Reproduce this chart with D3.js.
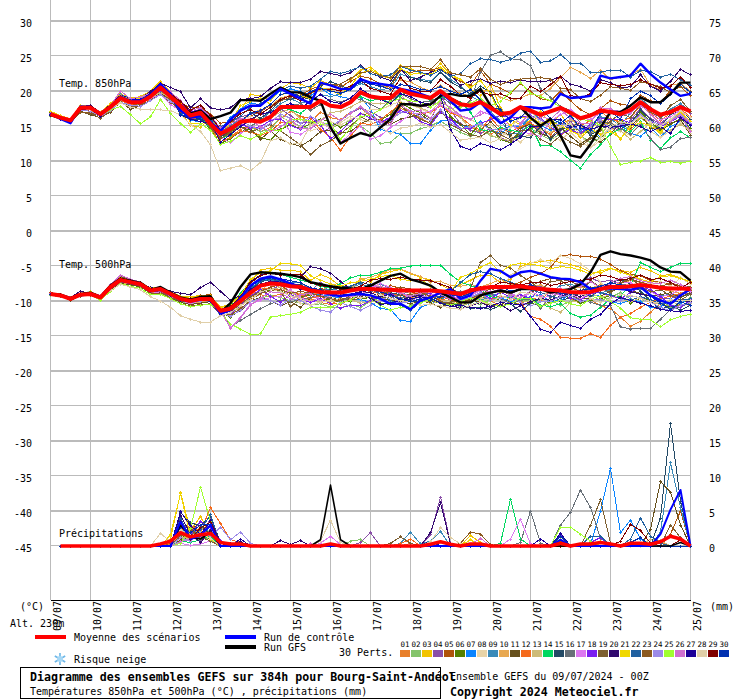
<!DOCTYPE html>
<html><head><meta charset="utf-8">
<script src="https://cdnjs.cloudflare.com/ajax/libs/d3/7.8.5/d3.min.js"></script>
<style>html,body{margin:0;padding:0;background:#fff}svg{display:block}text{font-family:"DejaVu Sans Mono",monospace;font-size:10px;fill:#000}</style>
</head><body><svg id="c" width="740" height="700"></svg>
<script>
const dates=["09/07","10/07","11/07","12/07","13/07","14/07","15/07","16/07","17/07","18/07","19/07","20/07","21/07","22/07","23/07","24/07","25/07"];
const leftTicks=[30,25,20,15,10,5,0,-5,-10,-15,-20,-25,-30,-35,-40,-45];
const rightTicks=[75,70,65,60,55,50,45,40,35,30,25,20,15,10,5,0];
const memberColors=["#e87f2a","#84c46b","#f2c400","#8a4fa8","#b0530a","#558000","#0a84ff","#e8d4a8","#3a8ab8","#e8a850","#66501c","#f56a1c","#cdbb78","#00d860","#234a66","#687078","#dc78f0","#7a1ef0","#7d5f30","#30086e","#f0d800","#2060a0","#8c5a20","#9c8ae8","#a0ff30","#d070d0","#1c0098","#e0cfa8","#800000","#0030b0"];

const mean850=[16.7,16.2,15.8,17.6,17.6,16.7,17.7,19,18.4,18.4,19.2,20.5,19.2,17.9,16.5,16.9,15.3,13.9,14.6,15.6,15.8,15.6,16.3,17.7,17.7,17.7,17.7,18.6,17.9,17.7,18.4,19.8,19.2,19,19,20.2,19.6,19.3,19,20,18.9,18.1,17.9,18.4,17.6,16.7,16.9,17.7,17.2,16.6,17.1,17.6,16.9,16.1,16.5,17.2,17,16.7,17.3,18.4,17.4,16.6,17,17.7,17.1];
const control850=[16.8,16,15.4,17.8,17.7,16.6,17.7,19.2,18.6,18.7,19.4,21,19.6,17.2,16.2,16.4,15.6,14.3,15.9,17.2,17.9,17.9,19.1,20.3,19.6,18.9,18.2,21.2,20.8,20.3,20.3,21.7,21.2,21,20.8,20.3,20,19.6,19.1,19.8,18.6,17.2,17.4,18.4,16.7,15.4,16.2,17.7,17.7,17.5,17.7,19.6,19,19.1,19.3,22.2,21.8,22,22.2,23.9,22.4,21.2,20.2,19.3,19.6];
const gfs850=[16.6,16.1,15.6,17.5,17.7,16.8,17.8,19.1,18.5,18.6,19.3,20.6,19.4,18,16.8,17.2,16,16.4,16.9,18.7,18.7,18.6,19.6,20.5,19.8,19.8,19.1,18.6,14.8,12.5,13.3,14,13.6,14.8,16,18.1,18.1,17.9,18.1,19.3,19.6,19.3,19.3,20.3,17.9,16.5,17,17.7,16.2,15,16,13.6,10.8,10.5,12.4,14.8,17,17,17.9,19.1,18.4,18.4,19.6,21.2,21.2];
const t850_01=[16.5,16,15.6,17.4,17.5,16.6,17.9,19.2,18.5,18.7,19.3,20.4,19,17,16.2,16.6,15.9,14.4,13.5,14.5,15,14.2,14.8,16,17.1,16.4,15.5,17,16.2,15.9,17,17.6,16.4,15.8,15.5,17.5,16.9,16.2,15.3,17.2,15.5,14.6,14.9,14.1,13.8,14.5,15,14.6,15.8,16.2,14.7,13.5,15,15.4,13.8,14.6,16.1,15.4,14.4,16.2,15.2,14.3,15.9,16.6,15.3];
const t850_02=[16.4,16.1,15.6,17.2,17.3,16.4,17.5,18.7,18.2,18.1,19.1,19.9,18.8,17.2,16.1,16.9,15.1,13.2,13.9,15.2,14.8,14.2,14.5,16.3,15.6,15,14.6,15.7,14.8,15.2,15.8,15,14,12.5,12.7,13.9,14,14.6,15,15.7,14.8,14.1,13.5,14.6,13.6,13.2,12.6,13.8,14.6,13.8,13,13.9,14.7,13.7,12.6,13.3,14.5,14.3,15,16.2,15.1,14.8,15.9,16.4,14.6];
const t850_03=[17,16.5,15.9,18,17.9,17,18.2,19.6,19,19.2,20,21.4,19.8,16.9,15.1,14.8,16.1,13.9,15.4,17.2,19.5,19.3,18.6,20.3,21.2,21,20.4,21.5,20.9,20.2,21.6,23,23.4,22.3,21.9,23.6,23.2,22.6,22.5,23.9,22.4,21.7,20.3,19.3,21,17.6,15.9,15.2,15.8,17.1,15.3,16.7,14.8,13.3,14.6,15.9,14.9,13.1,15,16.3,15,13.9,16,16.8,15.6];
const t850_04=[16.6,16.2,15.7,17.7,17.5,16.7,17.8,19.2,18.5,18.8,19.4,20.3,19.7,18.4,17.3,18,16.3,14.7,15.5,16.3,16.7,16.9,15.9,17.4,16.5,15.4,15.5,14.1,14.7,15.7,16.9,17.5,17.1,16.2,16.1,19.1,18.4,17.9,17.6,19.3,17.2,15.3,14.4,14,14.6,13.4,12.6,14,15.5,14.2,13.3,14.3,15.6,14.1,14.9,15.6,14.8,14.4,15.8,17.5,16.1,15.3,16.6,18.1,16.8];
const t850_05=[16.8,16.3,15.8,17.5,17.1,16.3,17.4,18.8,17.9,18.3,18.9,20.1,19.2,18.1,17.7,17.7,16.7,15.4,15.6,15.8,16.4,17.1,17.9,18.9,19.3,19.4,20.2,20.8,21,20.6,21.4,22.1,21.8,21,20.5,23,22.6,23,22.9,23.4,22.2,21.4,20.8,22.9,21,20.4,19.7,21.1,19.9,18.9,18.6,20,18.6,17.3,16.6,17.5,18.6,18.1,17.9,19.4,18.6,18.3,20.1,20.6,19.3];
const t850_06=[16.9,16.1,15.6,17.3,17.4,16.8,17.6,18.9,18.6,18.2,19.3,20.2,18.5,17.5,15.8,16.4,14.4,12.5,13.2,14.2,14.6,13.3,13,14.5,15.2,14.6,15.3,16,15.6,14.8,15.6,16.8,16.4,15.8,16.7,18.3,17.5,16.9,16.1,18.3,16.4,15.2,13.8,15.4,14.7,13.1,12.6,14.2,14.6,15.3,15.9,14.8,14.4,14.6,13.8,13.3,14.7,15.8,15.2,17,15.6,14.4,15.2,16.1,14.6];
const t850_07=[16.6,16,15.5,17.6,17.7,16.5,17.9,19.5,18.9,18.7,19.5,20.7,19.4,16.8,15.8,15.6,15.8,14.5,16.2,17.4,18.3,18,18.9,20,20.3,19.9,19.3,20.4,19.5,19.2,18.9,19.2,17.4,14.5,14.2,13.8,12.5,12.5,14.4,15.7,15.9,15.2,14.8,15.6,14.4,13.9,15.1,14.8,16.3,15.1,14.4,15.5,15.1,14.4,14.6,13.4,14.6,15.2,14,13.5,14.8,13.4,14.9,15.6,14.4];
const t850_08=[16.8,16.3,16,17.8,17.8,17,18,19.1,18.6,18.6,19,19.6,18.9,18.3,16.9,17.5,16.2,14.1,14.9,15.8,16.4,15.9,15.7,16.6,15.3,14.9,14.3,14.8,15.6,15.1,16,16.6,17.4,17.3,18,18.5,18,17.5,16.8,18.1,17.2,16.3,15.9,15.3,15.2,14.1,13.5,12.7,14,14.6,13.6,13,14.1,12.8,11.9,12.9,14.6,14.2,13.7,15.6,14.2,13.4,14.3,15.5,14];
const t850_09=[16.7,16.3,15.9,17.5,17.6,16.6,17.7,19.1,18.3,18.5,19.1,20.6,19.5,18,16.7,17.2,15.7,14,15.1,15.9,15.7,15.9,17,18.2,18.9,18.3,18.6,19.5,19.2,19.6,20.2,21.1,20.6,20.2,20.4,22.4,22,21.7,21.4,22.7,21.6,20.8,19.3,18.5,17.1,15.7,14,13.9,17.1,16,15,15.9,14.5,13.7,15.2,16.3,16,15,16.9,18.9,17.7,16.1,17.4,18.2,17.1];
const t850_10=[16.6,16.2,15.9,17.7,17.4,16.5,17.6,18.8,18.3,18.2,18.9,19.9,18.5,17.5,16.1,16.6,15.5,14.8,14.9,15.8,16.8,17.3,17.9,19,19.4,19.1,19.6,20.2,20.4,20,20.6,21.7,21.3,20.9,20.3,21.6,21.3,20.5,20,20.8,20,19.7,19.2,20,20.1,19.1,18.6,19,19.6,19.3,20.4,21.9,23.4,22.7,21.8,23,21.6,22,22.3,23.1,20.8,20.2,20.8,21.1,20];
const t850_11=[16.7,16.1,15.7,17.1,16.6,16.2,17,18.5,17.4,17.9,18.7,19.8,18.7,17.2,15.9,16.4,15.2,13.5,14.2,14.9,14.5,13.1,14.3,13.1,12.5,12.1,13,14.2,14.4,14,14.2,15.3,16,15.8,15.2,16,16.3,16.7,15.7,16.9,16.1,15.2,15,14.4,15.6,14.2,13.7,14.7,15.3,14,13.3,14.8,13.5,12.4,13.4,12.7,13.8,15.6,14.8,16.6,14.7,14.6,15.4,15.9,13.7];
const t850_12=[16.5,16.1,15.5,17.4,17.6,16.4,17.3,18.6,18.1,18.3,18.8,20,18.8,17.6,16.1,16.1,14.6,12.8,13.3,14.3,14.1,13.7,14.2,15.5,15.4,16.4,16.1,14.5,13.4,11.5,13.5,15.4,15.2,15.9,17,18.2,16.8,16.8,16.9,17.9,16.9,16.3,15.1,14.4,16.2,14.6,14.2,14.9,15.4,14.6,13.8,15.2,16,15,15.8,17.1,16,15.6,16.2,17.9,16.9,15.8,16.8,17.4,16.3];
const t850_13=[16.7,16.2,15.9,17.6,17.4,16.8,17.5,18.7,18.5,18.3,19,19.8,19,18.1,16.7,17.2,15.4,14.2,14.4,15.4,16,15.6,16.1,17,17.4,16,15.2,15.8,16.9,17.1,17.7,18.5,18.3,18.2,18.4,19.5,18.1,17.6,17,18.6,17.6,16.2,14.6,15.1,13.7,13.2,12.9,13.4,13.7,14.5,14.1,14.8,15.9,14.9,14.2,13.8,15.4,14.3,13.1,14.2,15.4,13.9,14.4,15.2,14.4];
const t850_14=[16.6,16.3,15.8,17.5,17.7,16.9,18,19.3,18.7,18.7,19.5,20.2,19,17.7,16.4,16.2,14.7,13.2,13.7,15,15.7,15.9,16.4,17.7,17.3,16.8,17.9,18.5,18,17.6,18.6,19.2,18.6,18.9,18.3,19.4,20,19.4,18.7,19,19.1,18.4,17,14.5,14.2,14.8,14.4,14.1,15.1,12.2,12.2,11.3,10.1,9,10.9,12.3,13.9,14.6,14.2,15.6,13,11.8,13.3,14.2,13.3];
const t850_15=[16.7,16.2,15.7,17.5,17.6,16.5,17.6,19.1,18.3,18.4,19.2,20.3,19.3,16.6,16,15.9,14.9,13.4,14.5,15.6,16.9,16.1,17.2,18.7,18.8,19.2,18.8,20.7,21.3,20.8,20.2,21.8,21.1,20.6,20.9,23.2,22,21.5,21.2,22.7,21.3,20.5,19.6,20.7,19.8,17.1,13.1,13.6,13.3,14.9,13.1,14.5,14.9,15.4,13.7,14.6,15.1,14.6,15.4,17.3,15.9,15,16.6,17.2,16];
const t850_16=[16.6,16.2,15.7,17.4,17.7,16.6,17.5,18.8,18.5,18.2,19.2,20,19.1,17.6,16.2,16.6,15.4,14.3,14.9,15.8,15,15.7,16.3,17.3,17.9,18.2,17.2,18.1,18.8,18.4,19,18.8,18.1,17.4,18.7,19.6,18.9,18.4,18.5,19.3,18.2,17.7,18.6,22.7,25.1,25.6,24.6,24.5,23.6,20.3,19.1,17.8,17.2,15.4,13.9,15.5,15.5,14.6,13.8,15.2,13.2,11.6,12,13.2,13.4];
const t850_17=[16.8,16.3,15.8,17.3,17.5,16.7,17.4,19,18.2,18.3,18.9,19.5,18.1,17.1,16.5,16.8,15.5,13.3,12.6,13.9,15,14.7,15.9,16.2,14.1,13.8,14.7,15.8,14.5,12.6,13.9,15,13.1,13.6,14.8,15.6,16.7,16.8,17.1,18,17.1,16.5,15.9,17.1,16.6,15.6,15.2,14.2,13.9,13.5,15.7,16.6,17.4,16.2,15.9,16.8,17.3,17.1,16.8,18.1,17,15.9,16.3,17.3,15.4];
const t850_18=[16.7,16.2,15.7,17.7,17.7,16.8,17.7,18.9,18.6,18.6,19.1,20.1,19.6,18.4,17,17.4,16.2,14.4,14.2,15.3,14.7,14.9,15.8,16,15.1,14.5,16.3,15.1,13.2,14.2,15.7,16.8,16.1,15.5,16.2,17.2,16.7,15.6,15.1,17,16,14.6,14.7,15.4,15.9,16.5,16.2,16.3,16.5,16.1,14.9,13.8,14.5,13.8,15.3,16.1,15.9,16,15.4,16.7,15.6,14.9,15.6,16.4,15.2];
const t850_19=[16.5,16,15.5,16.9,16.8,16.1,17.1,18.5,17.7,18.1,18.6,19.5,18.4,17.3,16.3,16.5,14.7,13.3,13.9,14.9,14.1,14.7,15.2,14.3,13.3,12.3,10.9,12.2,12.9,13.9,15,16.3,15.6,14.9,15.5,17.9,16.7,16,15.3,17.4,15.2,14.5,13.7,13.5,14.4,13.8,13,14.3,14.4,13.1,12.4,13.6,12.7,12.1,13.2,14.4,15.7,16.8,16.2,18.2,17,16.2,17.9,18.8,17.1];
const t850_20=[16.8,16.3,15.8,17.8,17.9,17,18,19.4,18.9,19,19.9,21.1,20.5,19.9,17.6,18.9,17.6,17.3,17.6,18.8,18.9,19.2,20.4,21.3,21.2,21.2,21.7,22.8,22.5,22.2,22.6,23.7,22.5,22,21.5,23.2,21.5,22,22.7,23.1,22.3,20.8,21.4,21.7,21.1,21.4,21.2,21.6,21.3,21.3,21.5,22.1,21,20.6,20,21.6,21.2,20.5,20.6,22.3,20.7,20,21.4,23.1,22.3];
const t850_21=[17.1,16.5,16,17.9,17.7,16.9,17.9,19.3,18.8,18.9,19.7,20.9,19.5,18.2,15.4,15.3,15.9,14.7,15.5,17.9,18.5,19,18.1,19.5,19.7,19.3,18.9,20.5,20.1,19.5,20.7,22.5,23.1,22.2,21.8,23.2,22.4,22.5,22.3,23.4,22.1,21.7,20.5,21.5,19.6,16.5,15.1,16.2,16.3,15.4,15.6,15.1,14.3,13.7,14.6,13.8,14.2,13.2,14.9,15.5,15,14.1,15.9,17.1,15.6];
const t850_22=[16.6,16.1,15.6,17.6,17.6,16.7,17.8,19.2,18.5,18.6,19.3,20.6,19.8,16.9,16.4,16.7,15.9,14.9,15.6,16.4,17.7,18.2,19.1,20.1,20.7,20.4,20.7,21.7,22.8,22.5,22.9,23.5,22.5,22.1,22.3,23.5,23,22.7,22.2,23,22.1,22.5,23.9,24.6,24.5,24.1,24.5,25.4,25.7,24.1,24.3,25.2,24,24,22.7,22.7,23,23,22,22.9,22.8,22,22.4,21.6,20.8];
const t850_23=[16.7,16.2,15.7,16.9,17,16.3,17.1,18.4,17.6,17.9,18.7,19.5,18.8,17.1,16.1,16.5,15,13.2,14.2,15.4,15.7,16.8,17.6,18.6,19.1,19.7,19.6,20.9,21,21,21.8,22.6,22.8,22.2,21.9,23.5,23.5,23.5,23.1,24.5,22.6,22.3,22,23.2,21.7,20.9,21.5,21.7,21.8,21.9,21.7,20.4,20.2,18.9,18.5,19.4,20.6,20.4,20.1,21.3,21,20.6,19.8,20.7,19.9];
const t850_24=[16.6,16.2,15.8,17.3,17.1,16.4,17.2,18.4,18,17.8,18.6,19.5,18.5,17.8,16.6,17,15.5,14.1,14.8,15.9,15,14.5,15.4,16.7,16.1,15.3,16.4,15.6,15,15.8,16.9,17.8,16.5,15.2,15.8,16.9,17.2,16.3,15.8,17.4,15.5,14.6,14.9,15.3,14.5,14.4,14.8,15.2,16.4,15.9,14.9,15.3,14.8,14.5,15,15.9,14.6,15.2,15.4,16.6,15.7,15.2,15.9,16.7,15.4];
const t850_25=[16.6,16.2,15.8,17.4,17.3,16.5,17.3,17.8,16.6,15.3,16.3,18.8,16.8,15.4,14.1,15.3,14.4,12.4,12.8,13.6,13.1,13.8,14.5,14.3,15.9,16,15.7,15.2,15.4,13.1,14.7,16.3,16.6,17.3,18.5,18.9,18.6,18.4,17.7,18.6,17.5,17.7,18.3,18.9,17.9,18.5,19.8,21.2,19.7,19.2,18.6,17.7,16.5,16,15.7,15.1,12.1,9.5,9.8,10,10.5,9.8,9.9,9.7,10];
const t850_26=[16.8,16.3,15.9,17.7,17.8,17,17.9,20,18.9,19.1,19.7,20.9,19.9,18.6,17.2,17.6,16.3,14.8,15.3,16.1,15.9,14.9,14.2,14.9,15.9,14.7,14.6,15.7,16.7,15.8,16.8,17.8,16.7,15.6,15.2,18,17.1,17.2,16.1,18.4,17.7,16.5,16,16.6,17.3,16.8,16.4,15.4,16.9,16.4,15.9,17.3,16.1,15.4,15.4,17.6,17.5,16.4,16.9,18,16.7,15.3,15.7,16.5,14.2];
const t850_27=[16.5,16,15.5,17.3,17.4,16.4,17.6,19.1,18.7,18.8,19.6,20.9,19.7,16.5,16,15.6,15.5,12.7,13.8,14.9,15.9,16.8,16.9,17.7,18.2,17.6,18.5,19.5,18.5,18.2,19,20.3,19.4,18.8,18.2,19.6,19.2,18.4,18.1,19.3,14.5,12.1,11.6,12.5,12.1,11.6,12.4,13.4,14.9,14.9,16,15.9,14.8,15.1,14.5,15,14.8,15,15.3,14.9,14.2,14.9,13.9,16.2,15.1];
const t850_28=[16.7,16.3,15.8,17.6,17.3,16.9,17.5,18.3,17.7,17.4,17.4,17.3,17.2,16.6,15.2,14.2,12.3,8.6,9,9.3,8.6,9.8,12.9,13.3,12.4,12.5,15.1,15.6,14.7,15.5,16.4,15.9,15.6,14.9,13.9,14.7,14.9,15.4,14.8,15.2,14.1,13,13.2,13.4,12.6,13.2,14.8,16.3,17.1,15.5,15,14.9,15.3,13.7,11.9,13.4,14.9,15.6,15.3,16.4,15.5,15,15.9,17.2,16.2];
const t850_29=[16.7,16.2,15.7,17.7,17.8,16.8,17.8,19.2,18.7,18.7,19.4,20.5,19.6,18.5,17.2,18,16.5,14.4,15.6,16.8,17.3,16.7,17.7,18.8,19.3,18.6,19.8,20.3,20.2,20.1,20.7,21.5,20.4,20,19.5,21.9,20.4,20,20,21.6,20.7,19.4,19,20,19.4,19.6,19,19,20.7,19.9,20.9,22.1,19.4,19,19.6,21.2,20.9,20.8,20.9,21.6,21,20.4,20.7,22,20.5];
const t850_30=[16.6,16.1,15.6,17.5,17.5,16.6,17.7,19.1,18.6,18.5,19.3,20.8,19.4,16.6,16.3,16,15.5,13.8,14.8,15.6,16.8,17.2,18.1,19.5,19.8,19.2,19.9,20.4,20,19.7,20.2,21.4,21,20.7,20.2,20.9,20.7,20.2,20.1,20.6,20,19.5,20.2,18.7,17.5,17.4,15.7,16.2,17.6,17.5,16.1,15.4,16.5,14.7,14.4,16.8,17,16,18.9,20,19.3,18.2,19.5,21,19.8];
const members850=[t850_01,t850_02,t850_03,t850_04,t850_05,t850_06,t850_07,t850_08,t850_09,t850_10,t850_11,t850_12,t850_13,t850_14,t850_15,t850_16,t850_17,t850_18,t850_19,t850_20,t850_21,t850_22,t850_23,t850_24,t850_25,t850_26,t850_27,t850_28,t850_29,t850_30];

const mean500=[-9,-9.2,-9.7,-9.1,-9,-9.5,-8,-7,-7.3,-7.6,-8.5,-8.3,-9,-9.7,-10,-9.7,-9.7,-11.4,-11.1,-10,-8.8,-7.8,-7.5,-7.6,-7.9,-8,-8.5,-8.7,-8.8,-8.8,-8.5,-8.3,-8.3,-8.4,-8.4,-8.5,-8.5,-8.5,-8.5,-8.6,-8.8,-9,-8.5,-8.2,-8,-8,-8,-7.9,-8.1,-8.3,-8.4,-8.5,-8.7,-8.8,-8.7,-8.3,-8,-8,-7.9,-7.7,-7.9,-8.1,-8.2,-8.2,-8.3];
const control500=[-9,-9.2,-9.6,-9.2,-9,-9.5,-8.1,-7.1,-7.4,-7.7,-8.6,-8.4,-9.1,-9.8,-10.1,-9.8,-9.9,-11.8,-11.3,-9.6,-7.8,-6.8,-6.5,-6.9,-7.5,-8,-8.3,-8.7,-9.1,-9.3,-9.1,-9,-9.2,-9.7,-10.4,-10.4,-11.2,-9.9,-9.5,-8.8,-8.3,-9.7,-9.2,-7.1,-5.4,-5.7,-6.6,-5.9,-5.7,-6.1,-6.6,-6.8,-6.9,-7.3,-8.3,-8.3,-8.2,-8.3,-8.4,-8,-9.2,-9.9,-10.4,-9.2,-8.3];
const gfs500=[-9,-9.1,-9.6,-9,-8.8,-9.4,-7.8,-6.8,-7.1,-7.4,-8.4,-8,-8.8,-9.5,-9.8,-9.4,-9.3,-11.6,-10.3,-8,-6.2,-5.9,-6,-6.1,-6.3,-6.6,-7.3,-7.6,-7.9,-8.1,-8.2,-8.3,-7.8,-7.1,-6.4,-6.1,-6.9,-7.3,-7.8,-8.8,-9.5,-10.2,-10.2,-9.2,-8.8,-8.5,-8.8,-8.3,-8.3,-8.3,-8.8,-8.5,-8.3,-7.6,-5.9,-3.4,-2.9,-3.3,-3.5,-3.8,-4.2,-5.2,-5.8,-5.9,-7.1];
const t500_01=[-9,-9.2,-9.8,-9,-8.9,-9.6,-8.2,-7.1,-7.4,-7.7,-8.3,-8.5,-9.2,-10,-10,-9.7,-9.9,-11.8,-12,-10.4,-9.5,-9.1,-9.4,-9,-8.8,-9.5,-9.7,-10.2,-10.5,-9.7,-9.9,-9,-9.4,-9.1,-8.9,-9.8,-8.9,-9,-8.6,-8.7,-9.8,-9.9,-10.2,-9.5,-9.9,-10.8,-10.1,-10.5,-9.5,-9.9,-8.6,-8.5,-9.7,-10.4,-9.8,-10.7,-11.1,-12.3,-13.6,-12.9,-11.6,-10.4,-10.9,-10.5,-10.6];
const t500_02=[-9.2,-9.4,-9.7,-9.3,-8.9,-9.8,-8.4,-7.4,-7.7,-8,-8.7,-8.6,-9.4,-10.2,-10.4,-10.2,-10,-12.1,-11.8,-11.2,-10,-9.6,-9.2,-9.5,-10,-10.3,-10.6,-10.4,-10.9,-11,-10.5,-10.9,-10.1,-9.5,-10,-9.5,-10.6,-10.3,-9.3,-9.7,-10.1,-10.9,-10.2,-10.5,-9.8,-9.6,-9.2,-10.1,-9.8,-9.7,-9.9,-10.6,-10.1,-9.3,-9.2,-9.9,-9.5,-8.8,-9.7,-10.2,-9.3,-9.8,-10.9,-10.4,-9.5];
const t500_03=[-8.9,-9.1,-9.5,-8.9,-8.7,-9.3,-7.8,-6.7,-6.9,-7.3,-8.2,-8.1,-8.7,-9.3,-9.4,-9.2,-9.3,-10.9,-10.4,-8.9,-7.2,-5.6,-5.3,-5.6,-5.6,-5.8,-7.1,-6.2,-6.8,-7.9,-8.4,-6.8,-7.3,-6.2,-5.8,-5.5,-6.1,-6.6,-7,-7.7,-8.4,-7.7,-7,-6.3,-6.3,-7.4,-6.9,-5.1,-4.5,-4.4,-4.2,-4.5,-4.8,-5.2,-5.9,-6,-5.4,-5.6,-5.9,-5.2,-5.7,-6.4,-6.2,-6.7,-7.5];
const t500_04=[-8.9,-9.2,-9.6,-9,-8.8,-9.4,-7.7,-6.6,-7.2,-7.6,-8.2,-8.4,-9.1,-9.9,-9.8,-9.6,-9.4,-11,-11.7,-10.6,-9.5,-8.9,-8.3,-7.8,-8.6,-9.5,-8.6,-7.3,-8.8,-8.9,-9.9,-9.1,-8.6,-8.1,-9.4,-9.1,-9.4,-8.7,-8.3,-8.9,-9.3,-9.9,-9.6,-8.7,-9,-8.5,-9.1,-8.1,-7.9,-7.9,-8.8,-9.1,-8.1,-7.2,-6.7,-7.3,-7,-7.7,-8.6,-7.6,-8.5,-9.6,-9.7,-9,-8.9];
const t500_05=[-8.8,-9,-9.6,-9.2,-9.1,-9.7,-8.2,-7.4,-7.5,-7.9,-8.8,-8.7,-9.3,-9.6,-9.8,-9.2,-9.1,-11.2,-11.3,-10.6,-9.6,-8.5,-8,-7.7,-8.8,-8.9,-9,-8.2,-8.6,-8.7,-8.3,-8.1,-8.6,-8.4,-7.8,-8.2,-8.7,-9.1,-9.2,-9.4,-9.8,-10.4,-9.4,-8.9,-8.7,-8.3,-7.8,-7.3,-6.6,-6.1,-5.2,-3.5,-3.4,-3.6,-3.6,-4,-4.8,-5.7,-6.2,-6.4,-7.1,-7.3,-7.6,-7.9,-8.5];
const t500_06=[-9.1,-9.3,-9.6,-9.3,-9.2,-9.6,-8.3,-7.3,-7.5,-7.9,-8.7,-8.5,-9.3,-9.9,-10.3,-10,-9.9,-11.5,-12.3,-11.2,-9.9,-8.7,-8.4,-8.5,-9.3,-9.4,-9.2,-9.8,-9.7,-10.2,-10,-9.7,-9.5,-10.3,-10.5,-9.8,-9.9,-9.3,-10.2,-9.7,-10.1,-10.5,-10.1,-9.4,-9.8,-9.7,-10.1,-10.6,-10.3,-10.7,-10.1,-9.3,-9.5,-10.3,-9.9,-9.7,-9.2,-9.4,-10.3,-9.6,-9.8,-10.1,-11.2,-10.4,-9.7];
const t500_07=[-8.9,-9.1,-9.7,-9.1,-8.9,-9.3,-8,-7.1,-7.2,-7.7,-8.4,-8.2,-9,-9.6,-9.8,-9.7,-9.6,-11.1,-10.9,-9.9,-8.2,-7.1,-6.7,-7,-7.7,-8,-8.9,-9.1,-9.3,-9.6,-9.9,-9.8,-10.2,-11.1,-11.2,-12.8,-12.9,-10.9,-10.4,-9.9,-9,-9.4,-9.3,-9.9,-8.9,-9.5,-10.1,-9.7,-9.4,-9.1,-10.1,-9.9,-9.1,-8.8,-9.2,-9.3,-10.1,-10.4,-9.8,-10.1,-10.9,-10.8,-9.7,-10.3,-9.6];
const t500_08=[-9,-9.2,-9.5,-9,-8.8,-9.4,-7.9,-6.9,-7.2,-7.4,-8.2,-8.1,-9,-9.5,-9.7,-9.4,-9.5,-11.3,-11.4,-10,-8.9,-8.2,-8.2,-8.7,-9.2,-10.4,-10.6,-10.1,-9.3,-8.6,-7.9,-7.9,-7.6,-7.9,-8.6,-8.4,-8.8,-9.6,-9.2,-9.8,-10.1,-10.6,-9.7,-9.6,-9.9,-8.6,-6.3,-5.4,-4.6,-4.1,-4.6,-3.5,-3.9,-4.7,-5.7,-7.3,-8.6,-8,-7.9,-7.3,-7.6,-7.2,-7.9,-6.7,-7.6];
const t500_09=[-9.1,-9.2,-9.6,-9,-9,-9.5,-8.1,-7.1,-7.4,-7.8,-8.6,-8.2,-9,-9.7,-9.9,-9.6,-9.6,-11.2,-11,-9.7,-8.4,-7.1,-7,-7.2,-7.4,-7.4,-8.3,-8.4,-8.3,-8.5,-8.1,-7.6,-7.9,-7.6,-8.2,-9.1,-8.6,-8.4,-8.4,-8.9,-9.3,-9.6,-10.7,-9.9,-9.4,-8.8,-8.1,-8.1,-8.3,-8.4,-8.7,-7.8,-7.6,-8.1,-8.2,-8.9,-8.4,-7.6,-7.8,-8.3,-8.7,-9.3,-9,-9.4,-9];
const t500_10=[-9,-9.1,-9.6,-9,-9,-9.6,-8.3,-7.4,-7.5,-7.9,-8.8,-8.9,-9.4,-9.8,-10.3,-10.2,-9.9,-11.3,-11.3,-10.2,-9.1,-8.5,-7.4,-8.1,-8.7,-8.9,-9.1,-8.8,-7.5,-7.9,-8.3,-6.9,-6.6,-6.1,-5.5,-5.4,-6,-6.5,-7.3,-7.2,-7.8,-7.9,-7.6,-8,-7.5,-6.9,-7.6,-8.2,-8.1,-7.7,-8.5,-8.9,-8.3,-8,-8.2,-7.7,-8,-7.4,-7.1,-7.3,-7.9,-8.3,-8.6,-8.9,-8.4];
const t500_11=[-9.1,-9.3,-9.9,-9.3,-9.2,-9.7,-8.4,-7.5,-7.7,-8,-8.9,-8.8,-9.5,-10.2,-10.5,-10.3,-10.1,-11.9,-12.1,-11.4,-10,-9.5,-9.9,-10.7,-10.1,-10.9,-9.6,-9.2,-9.5,-9.9,-9.6,-9.4,-9.5,-9.7,-9.9,-10.1,-10.4,-9.9,-10.3,-10.9,-10.3,-10.4,-9.8,-10.2,-10.6,-10.7,-9.4,-9.9,-8.7,-8.3,-8.5,-9.1,-9.3,-9.6,-9.7,-9.3,-8.6,-8.2,-8.5,-8.9,-9.3,-9.1,-8.8,-9.5,-8.8];
const t500_12=[-8.9,-9.1,-9.5,-9.1,-9,-9.4,-8,-7.2,-7.3,-7.6,-8.4,-8.2,-9.1,-9.7,-9.8,-9.8,-9.6,-11,-11.3,-10.2,-8.7,-8.3,-8.2,-8.4,-8.8,-9.1,-9.6,-9.3,-10.3,-10.5,-9.7,-9.1,-8.6,-9,-8.9,-9.2,-9.4,-9.9,-9.3,-9.8,-9.6,-9.4,-9.7,-9.1,-9.8,-9.3,-9.6,-10.1,-12.2,-12.6,-13.6,-15.2,-15.3,-15.3,-14.7,-15.2,-13.5,-12.3,-11.8,-10.9,-10.2,-9.7,-9.3,-8.9,-8.6];
const t500_13=[-9,-9.2,-9.7,-9.2,-9,-9.5,-8.2,-7.3,-7.4,-7.7,-8.6,-8.5,-9.2,-10,-10,-9.8,-9.9,-11.5,-11.9,-10.8,-9.5,-8.6,-8.3,-8.1,-8.7,-9.7,-9.9,-10.1,-10,-9.6,-9.8,-10.3,-10.2,-9.8,-9.3,-10.4,-9.7,-9.2,-10.5,-9.9,-10,-10.7,-10.2,-9.5,-9.2,-9.7,-9,-9.9,-10.2,-9.6,-11,-11.6,-10.2,-9.9,-8.9,-9.5,-9.1,-9.7,-10.1,-9.6,-10.2,-10.5,-9.9,-10.7,-10.3];
const t500_14=[-8.9,-9,-9.5,-8.9,-8.8,-9.3,-7.8,-6.8,-7.1,-7.5,-8.3,-8.1,-8.9,-9.5,-9.7,-9.4,-9.5,-11.3,-10.6,-8.9,-7.3,-6.3,-6,-6.2,-6.6,-7,-7.4,-7.9,-8.2,-7.5,-6.7,-6.3,-6.3,-5.9,-5.4,-5.3,-5,-4.9,-4.9,-4.9,-6.2,-7.3,-7.8,-8.3,-9.4,-9.6,-9.4,-9.9,-9.5,-10.6,-10.8,-10.4,-11.8,-12.3,-12,-10.9,-9.7,-9.2,-7.8,-4.5,-5.2,-5.8,-5.2,-4.6,-4.6];
const t500_15=[-9,-9.2,-9.6,-9.1,-9,-9.5,-8.1,-7,-7.3,-7.7,-8.5,-8.3,-9.1,-9.8,-10,-9.7,-9.8,-11.7,-11.5,-10.1,-8.4,-7.3,-6.9,-7.1,-7.5,-7.7,-8.4,-8.8,-8.4,-8,-7.9,-7.3,-7.7,-8.2,-8.8,-9.1,-9.9,-10.3,-9.6,-10.2,-10.6,-10.5,-11.1,-10.9,-11.2,-10.7,-10.4,-11.5,-10.3,-9.7,-9.2,-10,-9.5,-8.8,-9.4,-8.3,-7.4,-6.9,-7.6,-8.6,-10,-11.2,-10.7,-11.3,-10.6];
const t500_16=[-9,-9.1,-9.7,-9.2,-9.1,-9.6,-8.2,-7.3,-7.5,-7.8,-8.7,-8.6,-9.3,-9.9,-10.1,-9.9,-9.9,-11.1,-13.7,-12.8,-11.9,-11.1,-10.4,-9.9,-10.1,-9.8,-9.5,-9.1,-9.6,-10.1,-9.4,-9,-8.7,-8.1,-8.9,-9.6,-9.3,-9.1,-8.9,-8.6,-8.4,-8.7,-9.5,-9,-8.9,-9.6,-10.4,-9.9,-9.7,-11,-9.5,-8.8,-9.3,-9.8,-10.2,-10.6,-10.7,-13.7,-14,-13.9,-13.9,-12.6,-11.2,-10.9,-10.2];
const t500_17=[-8.9,-9.2,-9.6,-9,-8.9,-9.2,-7.6,-6.4,-7.1,-7.4,-8.6,-8.9,-9.4,-9.9,-10.4,-9.9,-9.7,-11.5,-13.8,-12.3,-10.4,-9.9,-9.5,-9.3,-8.4,-9.5,-10.2,-9.3,-8.8,-9.3,-9.4,-9.2,-8.1,-7.5,-8.1,-8.7,-9.7,-9.5,-9.1,-8.9,-9,-9.9,-9.3,-8.5,-7.9,-8.3,-8.9,-9.5,-8.9,-9.6,-9.3,-8.2,-8.9,-9.7,-8.8,-8.1,-7.6,-7.3,-7.4,-8.1,-8.7,-9.4,-9.1,-8.3,-8.6];
const t500_18=[-9,-9.2,-9.7,-9.1,-9,-9.5,-8.1,-7.2,-7.3,-7.6,-8.5,-8.4,-9.1,-9.8,-10.1,-9.8,-9.8,-11.4,-11.8,-10.6,-9.3,-8.4,-9.3,-10.2,-9,-9.9,-10.2,-9.7,-10.4,-11,-10.6,-10.7,-9.9,-9.3,-8.9,-9.7,-9.8,-9.3,-8.9,-8.6,-9.2,-10.1,-9.6,-8.8,-9.7,-8.7,-9.5,-9.1,-9.6,-8.2,-8.4,-9,-9.6,-9.9,-8.9,-8.8,-9.2,-9.7,-8.8,-8,-8.4,-9.3,-10.6,-10.9,-9.8];
const t500_19=[-9.1,-9.3,-9.8,-9.2,-9.1,-9.4,-7.9,-6.5,-6.9,-7.4,-8.3,-8.7,-9.5,-10,-10.2,-9.6,-9.9,-11.2,-11.6,-10.4,-9.4,-8.6,-8.2,-8.7,-10.8,-9.6,-8.9,-8.3,-8.6,-9.5,-9.9,-9.6,-9.2,-9.4,-9.6,-9.1,-9,-9.7,-9.9,-10.3,-10.2,-9.6,-8.2,-4.5,-3.5,-4.9,-5.3,-6.4,-7.2,-8.5,-7.2,-7.1,-8,-8.7,-7.1,-8,-8.9,-7.4,-6.6,-8,-8.7,-8.4,-9.2,-9.9,-9];
const t500_20=[-8.9,-9.1,-9.5,-8.6,-8.9,-9.4,-7.9,-7.1,-7.4,-7.5,-8.1,-8.2,-8.6,-8.9,-9.1,-8.1,-7.3,-8.6,-9.9,-9.2,-7.2,-6.3,-5.9,-6.1,-6.2,-6.6,-5.1,-5.4,-6,-7.2,-8.3,-8.6,-8.8,-9.4,-9,-9.9,-9.4,-9.2,-9.6,-10.4,-10.5,-11.1,-10.7,-10.2,-10.9,-10.5,-11.4,-10.7,-10.1,-9.6,-9.9,-9.3,-8.9,-9.4,-8.7,-7.9,-7.8,-8.1,-8.7,-9,-9.3,-10,-10.3,-9.9,-10.1];
const t500_21=[-8.9,-9,-9.5,-8.9,-8.8,-9.3,-7.7,-6.7,-7,-7.3,-8.2,-8,-8.8,-9.4,-9.6,-9.3,-9.2,-11,-10.5,-9.2,-6.9,-6,-5.7,-4.6,-4.7,-4.9,-6.4,-7,-7.6,-7.9,-7.4,-7.2,-6.9,-6.5,-6.3,-6.9,-7.1,-6.8,-7.9,-8.6,-8.7,-6.6,-6.1,-5.2,-4.5,-5.9,-4.9,-4.6,-4.8,-4.9,-5.4,-5.1,-5.2,-5.6,-6.2,-5.7,-5.3,-5.9,-6.3,-6.9,-7.3,-6.5,-6.4,-6.8,-7.2];
const t500_22=[-9,-9.2,-9.6,-9,-9,-9.5,-8,-7,-7.3,-7.6,-8.5,-8.3,-9,-9.7,-9.9,-9.6,-9.7,-11.3,-11,-9.7,-8.2,-7.2,-6.9,-7.2,-7.6,-7.9,-8.2,-8.8,-8.9,-8.4,-7.9,-7.4,-8.3,-9,-9.9,-10.6,-11.3,-10.2,-9.6,-9.3,-8.6,-7.4,-6.2,-5.8,-6.1,-6.8,-7.3,-7.9,-8.4,-8.8,-9.3,-9.6,-9.2,-8.7,-8.3,-8.8,-9.1,-9.6,-9.9,-9.4,-9.8,-10.4,-10.2,-9.9,-9.7];
const t500_23=[-9.1,-9.3,-9.7,-9.3,-9.2,-9.6,-8,-6.9,-7.5,-7.9,-8.9,-8.9,-9.6,-10.4,-10.7,-10.5,-10.4,-11.9,-12,-11.1,-9.9,-8.9,-8.6,-8.4,-8.9,-8.6,-8.9,-9.3,-9.8,-9.9,-9.3,-9.1,-9.4,-9,-8.6,-8,-8.3,-8.8,-9.3,-10,-10.5,-10.3,-9.6,-9.1,-8.2,-8.8,-8.9,-8.4,-7.9,-7.2,-6.8,-6.9,-7.2,-7.9,-8.1,-8.5,-8.1,-7.5,-6.9,-7.3,-7.7,-7.9,-7.5,-7.8,-8];
const t500_24=[-9,-9.2,-9.6,-9.1,-9,-9.5,-8.2,-7.2,-7.4,-7.8,-8.5,-8.5,-9.3,-9.9,-10.2,-10,-9.9,-11.6,-12.2,-11.3,-10.1,-9.6,-9.9,-10.6,-9.7,-9.9,-10.7,-11.3,-11.6,-10.2,-10.8,-11.3,-10.6,-9.9,-9.3,-10.3,-10.1,-9.3,-9.5,-8.9,-9.6,-9.9,-9.5,-8.8,-9.9,-9.6,-9.3,-10.2,-10.7,-10.1,-10,-9.4,-9.2,-10.1,-9.7,-9.8,-10.2,-9.9,-9.3,-9.5,-10.2,-10.9,-11.4,-10.6,-10.2];
const t500_25=[-9,-9.2,-9.7,-9.2,-9.1,-9.9,-8.6,-7.5,-7.9,-8.2,-9.1,-9,-9.7,-10.4,-10.8,-10.6,-10.5,-11.6,-13.3,-14,-14.8,-14.7,-12.3,-12.1,-11.9,-11.6,-10.9,-10.9,-10.9,-10.3,-9.9,-8.8,-9.7,-10.6,-11.3,-10.9,-10.8,-10.3,-9.7,-10.4,-10.6,-10.1,-9.6,-9.9,-10.4,-10.8,-10.4,-9.6,-9.7,-10.8,-10.3,-9.9,-10.4,-10.7,-9.7,-9.3,-10.1,-11,-12.4,-12.6,-12.7,-13.7,-12.7,-12.2,-11.9];
const t500_26=[-8.9,-9.1,-9.7,-9,-9,-9.4,-7.6,-6.3,-6.9,-7.3,-8.5,-8.6,-9.2,-9.9,-10.2,-9.8,-9.8,-11.4,-13.9,-12.4,-10.6,-9.6,-8.7,-8.8,-9.7,-9.1,-8.9,-9.9,-9.2,-8.8,-9.3,-8.7,-8.1,-7.9,-8.3,-8.9,-9.3,-8.9,-8.6,-9.1,-9.8,-9.6,-9.1,-8.4,-8.7,-8.3,-9.1,-9.5,-8.6,-9.3,-8.9,-9.2,-8.1,-7.9,-7.2,-8.1,-7.3,-6.8,-6.5,-7.1,-7.4,-7.5,-7,-7.7,-8.2];
const t500_27=[-9,-9.2,-9.7,-9.1,-9,-9.5,-8.1,-7.1,-7.4,-7.7,-8.6,-8.4,-9.2,-9.9,-10.1,-9.8,-10,-11.9,-11.4,-9.8,-8.3,-7.6,-7.2,-7.3,-7.6,-8.3,-8.6,-8.9,-9,-9.2,-9,-8.7,-9.6,-10.5,-10.3,-9.9,-9.7,-9.4,-9.6,-10.3,-10.8,-10.6,-10.9,-11.1,-10.7,-10.2,-10.4,-10.5,-12.2,-14,-14.5,-13,-13.5,-13.9,-12.6,-11.9,-10.4,-9.5,-9.9,-10.3,-10.7,-11.2,-11.4,-11.5,-11.3];
const t500_28=[-9,-9.2,-9.6,-9.2,-9,-9.5,-8.5,-7.6,-8,-8.4,-9.4,-10,-10.9,-12.1,-12.6,-13,-13,-12.1,-11.7,-10.6,-9.9,-8.7,-8.3,-8.7,-9.2,-9.7,-10.6,-10.2,-9.9,-8.8,-9.1,-9.6,-9.3,-9.1,-9.7,-9.9,-10.1,-10.6,-10.5,-10.7,-11,-11.2,-10.6,-10.1,-10.5,-9.2,-9.8,-8.8,-8.9,-9.6,-8.4,-8.7,-9.1,-8.7,-9.6,-10.2,-9.7,-9.1,-9.2,-9.6,-10.1,-10.3,-9.8,-10,-9.9];
const t500_29=[-9,-9.1,-9.6,-8.9,-8.9,-9.4,-7.8,-6.8,-7.1,-7.4,-8.3,-8.1,-8.9,-9.6,-9.7,-9.5,-9.5,-11.3,-10.8,-9.3,-7.4,-6.4,-6,-6.3,-6.2,-6.2,-7.4,-7.8,-8,-8.3,-8.3,-7.9,-7,-6.8,-6.9,-6.6,-6.9,-7,-7.1,-7.6,-8.1,-9.2,-8.6,-8.1,-8.1,-7.3,-7.5,-7.7,-7.4,-7.3,-7.8,-7.5,-7.2,-7.1,-6.9,-6.3,-6.5,-7,-6.8,-6.3,-6.9,-6.8,-7.3,-8.2,-7.3];
const t500_30=[-9,-9.2,-9.6,-9,-9,-9.5,-8,-7.1,-7.3,-7.6,-8.4,-8.3,-9.1,-9.8,-10,-9.7,-9.8,-11.5,-10.9,-9.5,-7.9,-7,-6.7,-6.8,-7.1,-7.4,-8.1,-8.4,-8.9,-8.8,-8.4,-8.1,-8.4,-8.7,-9.2,-9.7,-10.1,-9.7,-9.9,-9.4,-9.1,-9.4,-8.9,-8.3,-7.9,-7.9,-8.6,-8.3,-7.7,-8.2,-8.5,-8.9,-9,-8.5,-8.2,-7.9,-7.4,-7.7,-7.9,-7.8,-9.3,-10.3,-11.2,-10.1,-10.6];
const members500=[t500_01,t500_02,t500_03,t500_04,t500_05,t500_06,t500_07,t500_08,t500_09,t500_10,t500_11,t500_12,t500_13,t500_14,t500_15,t500_16,t500_17,t500_18,t500_19,t500_20,t500_21,t500_22,t500_23,t500_24,t500_25,t500_26,t500_27,t500_28,t500_29,t500_30];

// Precipitation: [step, mm] for each wet step; all other steps are dry.
const meanPrecip=[[11,.3],[12,.7],[13,1.9],[14,1.3],[15,1.6],[16,1.8],[17,.5],[18,.3],[19,.3],[28,.3],[38,.25],[39,.6],[40,.25],[42,.3],[43,.3],[51,.4],[53,.3],[54,.3],[55,.5],[56,.3],[58,.4],[59,.4],[60,.25],[61,.6],[62,1.4],[63,1]];
const controlPrecip=[[13,3.5],[14,1],[15,1.5],[16,3],[51,.9],[61,1.7],[62,5.2],[63,8]];
const gfsPrecip=[[13,3],[14,1.2],[15,1],[16,2],[27,.9],[28,8.7],[29,.9],[63,.5]];
const membersPrecip=[
[[12,.3],[13,1.4],[14,2.2],[15,1],[16,1.8],[17,.4],[36,.4],[61,.5]],
[[13,1.9],[14,.8],[15,1.5],[16,.9],[30,.7],[31,.9]],
[[12,1],[13,7.6],[14,2.2],[15,4.2],[16,1.5],[42,1.5],[43,.5],[55,.6]],
[[13,2.5],[14,3.2],[15,.8],[16,4],[17,.6],[31,.5],[32,1.9],[38,1.6],[39,7],[40,.4]],
[[12,.4],[13,2],[14,1.5],[15,2.5],[16,2.8],[62,1.7],[63,5]],
[[13,1],[14,1.2],[15,1.7],[16,1],[51,.7]],
[[13,2.4],[14,1.9],[15,2.2],[16,1.2],[54,.2],[55,5],[56,11.1],[57,1.9],[58,3.7],[59,1]],
[[13,.9],[14,3],[15,1.7],[16,2.3]],
[[13,3.2],[14,1.4],[15,.7],[16,3],[35,.4],[36,2],[37,.3],[38,.7],[39,2.1],[61,2],[62,11.9],[63,5.5]],
[[13,1.8],[14,.9],[15,2.8],[16,1.1]],
[[13,.8],[14,2.7],[15,3],[16,1.6],[60,2.4],[61,9.2],[62,7.7],[63,3]],
[[12,.5],[13,2.2],[14,3],[15,2],[16,5.5],[17,3.2],[18,.9],[19,.5],[35,.3],[36,1]],
[[13,1.2],[14,1.1],[15,1.8],[16,1.8],[60,1],[61,.8]],
[[13,.7],[14,.5],[15,.9],[16,1.4],[45,.4],[46,6.7],[47,1]],
[[13,4.8],[14,3.3],[15,2.9],[16,4.2],[17,.5],[61,4],[62,17.5],[63,6.4]],
[[13,1.6],[14,2.1],[15,.9],[16,2.4],[47,.5],[48,5],[49,.4],[51,3],[52,4.8],[53,8],[54,5.5],[55,1.1]],
[[13,.4],[14,.1],[15,.3],[16,.7],[27,.4],[28,1.4],[29,.2],[46,1],[47,3.8],[48,.3]],
[[13,3],[14,1.6],[15,3.5],[16,2.6],[17,.8],[51,1.5],[54,.5],[55,1.2]],
[[13,1.3],[14,2.6],[15,1.3],[16,.7],[34,.4],[35,1.3],[36,.4],[54,3],[55,6.6],[56,.4],[62,3],[63,1.2]],
[[13,4.4],[14,1.7],[15,.5],[16,2.2],[18,.3],[19,.6],[23,.8],[24,.2],[25,.8],[38,1.9],[39,6.2],[40,.3]],
[[12,1.6],[13,7.5],[14,1.3],[15,2.1],[16,1],[42,.9],[51,1]],
[[13,4],[14,1.2],[15,2.3],[16,4.5],[54,1.4],[55,1.4],[58,1],[59,4],[60,1.4],[61,.4]],
[[13,1.5],[14,2.4],[15,1.1],[16,1.9],[41,.4],[42,2],[43,1.7],[44,.2]],
[[13,1.2],[14,.7],[15,2],[16,1.3],[17,2.7],[18,.9],[19,2],[20,.4]],
[[13,.4],[14,2.5],[15,8.4],[16,3.5],[17,.5],[51,2.7],[52,2.7],[53,1.7],[54,.7]],
[[13,.6],[14,1],[15,1.4],[16,2],[26,.3],[42,.2],[43,1.1]],
[[13,4.9],[14,2.9],[15,1.7],[16,3.6],[17,.5],[19,1],[38,.7],[41,.3],[49,1],[51,1.8]],
[[11,1.8],[12,.6],[13,2.3],[14,1.5],[15,1.6],[16,1.1],[27,.7],[28,3.7],[29,.5],[38,.6],[39,2.6],[40,1.2],[41,.3]],
[[13,3.5],[14,1],[15,2.6],[16,3.4],[17,.4],[57,.7],[58,3.1],[59,2.2],[60,.4],[63,.9]],
[[13,2.7],[14,1.9],[15,3],[16,3.1],[51,1.4],[58,.5],[59,1.2]]
];

const x=d3.scaleLinear().domain([0,64]).range([50.5,690.5]);
const y=d3.scaleLinear().domain([30,-45]).range([21,546]);
const yR=d3.scaleLinear().domain([75,0]).range([21,546]);
const svg=d3.select("#c");
const grey="#bbbbbb";
leftTicks.forEach(t=>{const thick=t%10===0;const yy=thick?y(t):y(t)-.5;
 svg.append("line").attr("x1",x(0)).attr("x2",x(64)+.5).attr("y1",yy).attr("y2",yy).attr("stroke",grey).attr("stroke-width",thick?2:1).attr("shape-rendering","crispEdges");});
d3.range(0,65,4).forEach(i=>svg.append("line").attr("x1",x(i)).attr("x2",x(i)).attr("y1",0).attr("y2",600).attr("stroke",grey).attr("stroke-width",1).attr("shape-rendering","crispEdges"));
svg.append("line").attr("x1",x(0)).attr("x2",x(64)).attr("y1",600.5).attr("y2",600.5).attr("stroke","#000").attr("shape-rendering","crispEdges");
leftTicks.forEach(t=>svg.append("text").attr("x",32).attr("y",y(t)+5.5).attr("text-anchor","end").text(t));
rightTicks.forEach(t=>svg.append("text").attr("x",709).attr("y",yR(t)+5.5).text(t));
dates.forEach((d,i)=>svg.append("text").attr("transform",`translate(${x(i*4)+10},631) rotate(-90)`).text(d));

const T=(s,xx,yy,o={})=>svg.append("text").attr("x",xx).attr("y",yy).attr("font-weight",o.b?"bold":null).style("font-size",(o.s||10)+"px").text(s);
T("Temp. 850hPa",59,87);T("Temp. 500hPa",59,268);T("Précipitations",59,537);

const expand=p=>{const a=d3.range(65).map(()=>0);p.forEach(([i,v])=>a[i]=v);return a.map((v,i)=>[i,v]).slice(1);};
function draw(points,sc,color,w,marks){
 const g=d3.line().x(d=>x(d[0])).y(d=>sc(d[1]));
 svg.append("path").attr("d",g(points)).attr("fill","none").attr("stroke",color).attr("stroke-width",w).attr("stroke-linejoin","round").attr("shape-rendering",w>1?"geometricPrecision":"crispEdges");
 if(marks) svg.append("path").attr("d",points.map(d=>`M${x(d[0])-1.5} ${sc(d[1])}h3M${x(d[0])} ${sc(d[1])-1.5}v3`).join("")).attr("fill","none").attr("stroke",color).attr("stroke-width",1).attr("shape-rendering","crispEdges");
}
const pts=a=>a.map((v,i)=>[i,v]);
members850.forEach((s,i)=>draw(pts(s),y,memberColors[i],1,true));
draw(pts(gfs850),y,"#000",2.4);draw(pts(control850),y,"#00f",2.4);draw(pts(mean850),y,"#f00",4);
members500.forEach((s,i)=>draw(pts(s),y,memberColors[i],1,true));
draw(pts(gfs500),y,"#000",2.4);draw(pts(control500),y,"#00f",2.4);draw(pts(mean500),y,"#f00",4);
membersPrecip.forEach((s,i)=>draw(expand(s),yR,memberColors[i],1,true));
draw(expand(gfsPrecip),yR,"#000",1.6);draw(expand(controlPrecip),yR,"#00f",2);draw(expand(meanPrecip),yR,"#f00",3.5);

T("(°C)",20,610);T("(mm)",710,610);T("Alt. 230m",10,627);
T("Moyenne des scénarios",74,641);T("Run de contrôle",264,641);T("Run GFS",264,651);T("Risque neige",74,663);T("30 Perts.",339,656);
[[35,66,"#f00",637],[225,256,"#00f",637],[225,256,"#000",647]].forEach(a=>svg.append("rect").attr("x",a[0]).attr("width",a[1]-a[0]).attr("y",a[3]-2).attr("height",4).attr("fill",a[2]));
memberColors.forEach((c,i)=>{svg.append("rect").attr("x",400+11*i).attr("y",650).attr("width",10).attr("height",7).attr("fill",c);
svg.append("text").attr("x",405+11*i).attr("y",647).attr("text-anchor","middle").style("font-size","7.5px").text(d3.format("02")(i+1));});
const flake=svg.append("g").attr("transform","translate(60,659)").attr("stroke","#6bb6e8").attr("stroke-width",1.6);
[0,60,120].forEach(a=>flake.append("line").attr("x1",0).attr("x2",0).attr("y1",-6).attr("y2",6).attr("transform",`rotate(${a})`));
flake.append("circle").attr("r",3).attr("fill","#a8d8f5").attr("stroke","none");
svg.append("rect").attr("x",20.5).attr("y",667.5).attr("width",420).attr("height",31).attr("fill","#fff").attr("stroke","#000");
T("Diagramme des ensembles GEFS sur 384h pour Bourg-Saint-Andéol",30,681,{b:1,s:11.6});
T("Températures 850hPa et 500hPa (°C) , précipitations (mm)",30,695);
T("Ensemble GEFS du 09/07/2024 - 00Z",450,680);
T("Copyright 2024 Meteociel.fr",450,696,{b:1,s:11.6});
</script></body></html>
